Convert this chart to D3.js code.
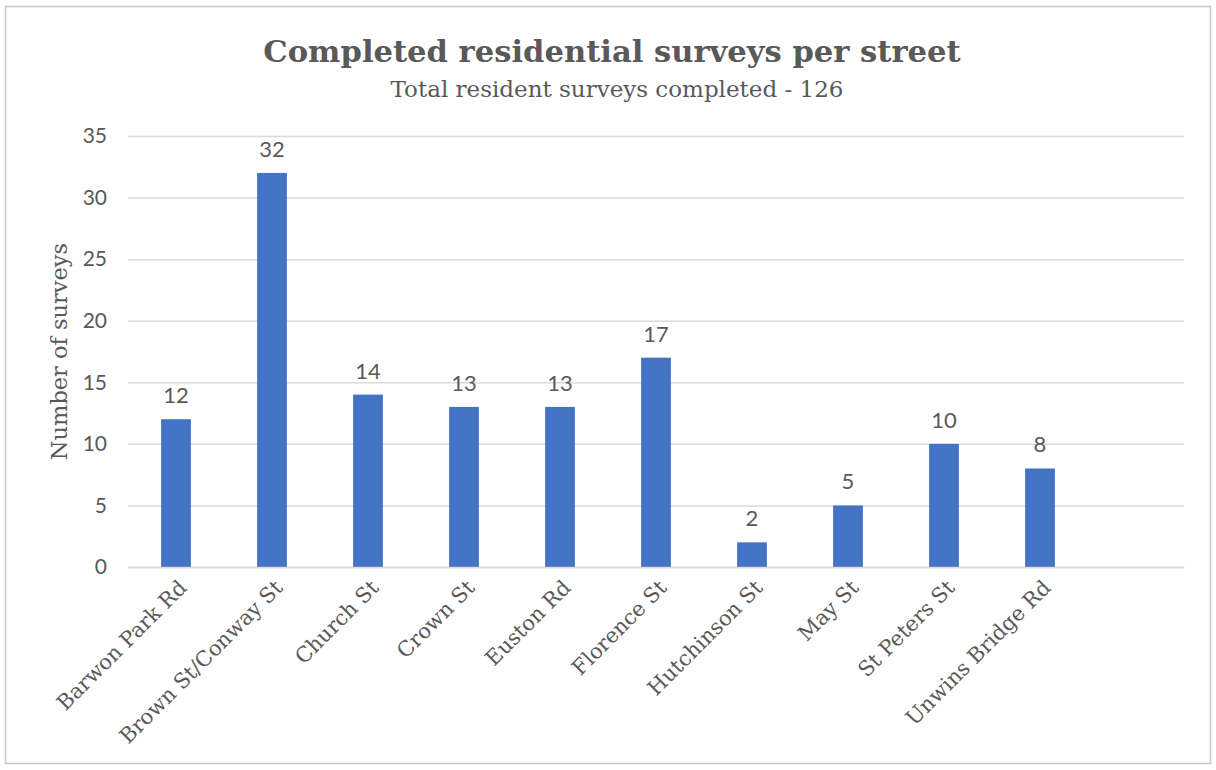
<!DOCTYPE html>
<html>
<head>
<meta charset="utf-8">
<script src="https://cdn.jsdelivr.net/npm/d3@7"></script>
<style>
  html, body { margin: 0; padding: 0; background: #fff; }
  svg { display: block; }
</style>
</head>
<body>
<svg id="chart" width="1216" height="770"></svg>
<script>
// Survey counts per street
const streets = ["Barwon Park Rd", "Brown St/Conway St", "Church St", "Crown St", "Euston Rd",
                 "Florence St", "Hutchinson St", "May St", "St Peters St", "Unwins Bridge Rd", ""];
const surveys = [12, 32, 14, 13, 13, 17, 2, 5, 10, 8, null];
const yTicks = [0, 5, 10, 15, 20, 25, 30, 35];
const titleText = "Completed residential surveys per street";
const subtitleText = "Total resident surveys completed - 126";
const yAxisTitle = "Number of surveys";

const W = 1216, H = 770;
const margin = { top: 136, right: 32, bottom: 203, left: 128 };
const serif = "'DejaVu Serif', 'Liberation Serif', serif";
const sans = "Lato, 'Liberation Sans', sans-serif";
const textColor = "#595959";

const svg = d3.select("#chart");

// Frame
svg.append("rect")
  .attr("x", 5.5).attr("y", 6.5).attr("width", W - 11).attr("height", H - 13)
  .attr("fill", "#fff").attr("stroke", "#c8c8c8").attr("stroke-width", 1.5);

const x = d3.scaleBand()
  .domain(streets)
  .range([margin.left, W - margin.right])
  .paddingInner(0.69).paddingOuter(0.345);

const y = d3.scaleLinear()
  .domain([0, 35])
  .range([H - margin.bottom, margin.top]);

// Horizontal gridlines + y labels
const yAxis = d3.axisLeft(y).tickValues(yTicks).tickSize(-(W - margin.right - margin.left)).tickPadding(21);
const gy = svg.append("g").attr("transform", `translate(${margin.left},0)`).call(yAxis);
gy.select(".domain").remove();
gy.selectAll(".tick line").attr("stroke", "#d9d9d9").attr("stroke-width", 1.5);
gy.selectAll(".tick text")
  .attr("fill", textColor).attr("font-family", sans).attr("font-size", 21);

// Bars
const data = streets.map((s, i) => ({ s, v: surveys[i] })).filter(d => d.v != null);
svg.append("g").selectAll("rect").data(data).join("rect")
  .attr("x", d => x(d.s))
  .attr("width", x.bandwidth())
  .attr("y", d => y(d.v))
  .attr("height", d => y(0) - y(d.v))
  .attr("fill", "#4472c4");

// Value labels
svg.append("g").selectAll("text").data(data).join("text")
  .attr("x", d => x(d.s) + x.bandwidth() / 2)
  .attr("y", d => y(d.v) - 16)
  .attr("text-anchor", "middle")
  .attr("fill", textColor).attr("font-family", sans).attr("font-size", 22)
  .text(d => d.v);

// Category axis with rotated labels
const xAxis = d3.axisBottom(x).tickSize(0).tickPadding(0);
const gx = svg.append("g").attr("transform", `translate(0,${y(0)})`).call(xAxis);
gx.select(".domain").attr("stroke", "#d9d9d9").attr("stroke-width", 1.5);
gx.selectAll(".tick text")
  .attr("fill", textColor).attr("font-family", serif).attr("font-size", 21)
  .attr("text-anchor", "end")
  .attr("dy", 0)
  .attr("transform", "translate(12,22) rotate(-45)");

// Titles
svg.append("text")
  .attr("x", 612).attr("y", 62).attr("text-anchor", "middle")
  .attr("fill", textColor).attr("font-family", serif).attr("font-weight", "bold").attr("font-size", 30.6)
  .text(titleText);
svg.append("text")
  .attr("x", 617).attr("y", 97).attr("text-anchor", "middle")
  .attr("fill", textColor).attr("font-family", serif).attr("font-size", 23)
  .text(subtitleText);

svg.append("text")
  .attr("transform", `translate(67,${y(17.5)}) rotate(-90)`)
  .attr("text-anchor", "middle")
  .attr("fill", textColor).attr("font-family", serif).attr("font-size", 22.5)
  .text(yAxisTitle);
</script>
</body>
</html>
